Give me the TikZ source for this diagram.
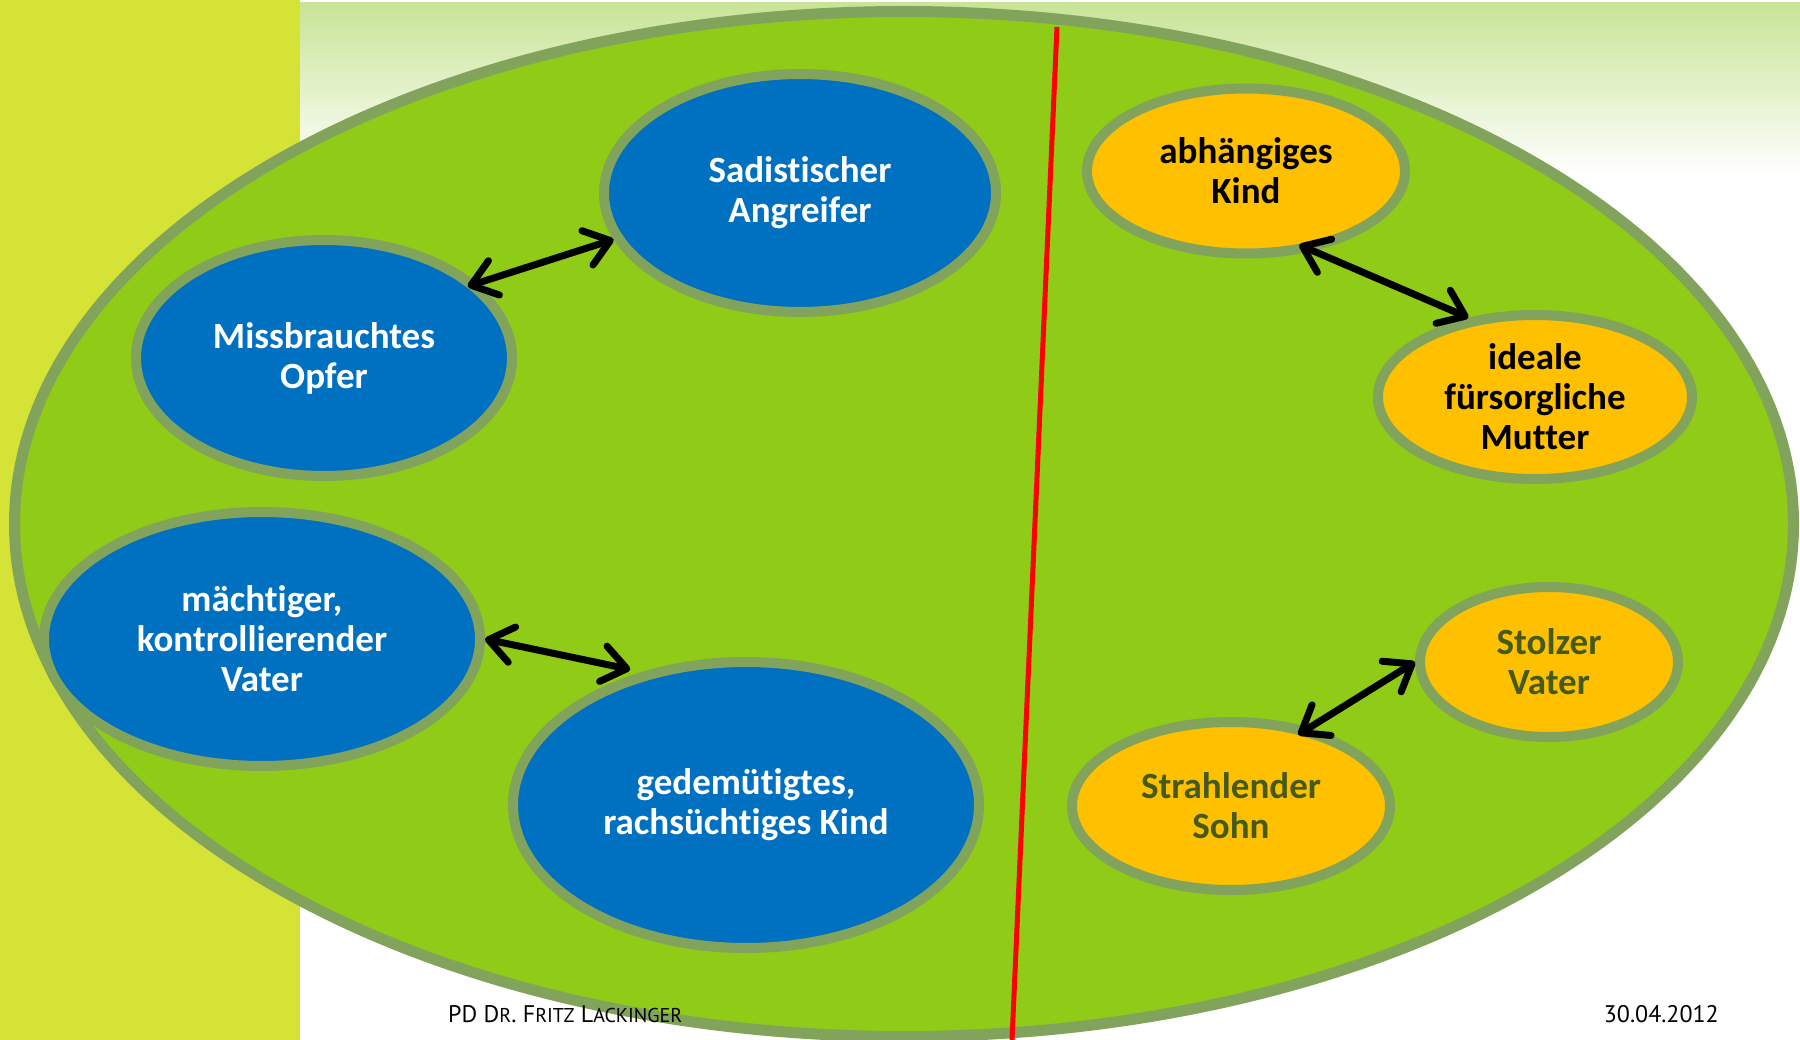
\documentclass[tikz,border=0pt]{standalone}
\usepackage{fontspec}
\setmainfont{Carlito}[Ligatures=NoCommon]
\newfontfamily\footfont{PT Sans}
\usetikzlibrary{arrows.meta,shapes.geometric}

\definecolor{stripgreen}{RGB}{213,227,55}
\definecolor{topgreen}{RGB}{200,228,150}
\definecolor{leafgreen}{RGB}{143,203,23}
\definecolor{rimgreen}{RGB}{130,163,92}
\definecolor{roleblue}{RGB}{0,112,192}
\definecolor{roleamber}{RGB}{255,192,0}
\definecolor{olivetext}{RGB}{70,90,24}

% reduced capitals for the author line
\newcommand{\lowcaps}[1]{{\fontsize{20}{21}\selectfont #1}}

\begin{document}
\begin{tikzpicture}[x=1pt,y=-1pt,
  role/.style={ellipse, draw=rimgreen, line width=10pt, inner sep=0pt,
    align=center, font=\fontsize{37}{40}\selectfont\bfseries},
  bluerole/.style={role, fill=roleblue, text=white},
  amberrole/.style={role, fill=roleamber, text=black},
  oliverole/.style={role, fill=roleamber, text=olivetext},
  link/.style={{Straight Barb[length=24pt,width=36pt,round]}-{Straight Barb[length=24pt,width=36pt,round]},
    line width=7pt, line cap=round, black},
  footer/.style={inner sep=0pt, font=\footfont\fontsize{24}{26}\selectfont, text=black}
]
\useasboundingbox (0,0) rectangle (1800,1040);

% background: white page, soft green band on top, lime strip on the left
\fill[white] (0,0) rectangle (1800,1040);
\shade[top color=topgreen, bottom color=white] (300,3) rectangle (1800,175);
\fill[stripgreen] (0,0) rectangle (300,1040);

% large enclosing ellipse
\draw[draw=rimgreen, fill=leafgreen, line width=11pt]
  (904,524) ellipse [x radius=889.5, y radius=512.5];

% dividing line
\coordinate (cutTop) at (1057,27);
\coordinate (cutBottom) at (1012,1040);
\draw[red, line width=5pt] (cutTop) -- (cutBottom);

% left half: blue roles
\node[bluerole, minimum width=392pt, minimum height=238pt] (sad) at (800,193) {Sadistischer\\Angreifer};
\node[bluerole, minimum width=376pt, minimum height=236pt] (opf) at (324,358) {Missbrauchtes\\Opfer};
\node[bluerole, minimum width=436pt, minimum height=254pt] (vat) at (262,639) {mächtiger,\\kontrollierender\\Vater};
\node[bluerole, minimum width=466pt, minimum height=286pt] (ged) at (746,805) {gedemütigtes,\\rachsüchtiges Kind};

% right half: amber roles
\node[amberrole, minimum width=318pt, minimum height=165pt] (abh) at (1246,171) {abhängiges\\Kind};
\node[amberrole, minimum width=314pt, minimum height=164pt] (mut) at (1535,397) {ideale\\fürsorgliche\\Mutter};
\node[oliverole, minimum width=258pt, minimum height=150pt] (stv) at (1549,662) {Stolzer\\Vater};
\node[oliverole, minimum width=318pt, minimum height=168pt] (soh) at (1231,806) {Strahlender\\Sohn};

% mutual relations
\draw[link, shorten <=-10pt] (opf.26) -- (sad.194);
\draw[link, shorten >=12pt] (vat.0) -- (ged.128.5);
\draw[link, shorten <=-15pt] (abh.310) -- (mut.130);
\draw[link, shorten <=-13pt] (soh.45) -- (stv.180);

% footer
\node[footer, anchor=base west] (author) at (448,1022)
  {PD D\lowcaps{R}. F\lowcaps{RITZ} L\lowcaps{ACKINGER}};
\node[footer, anchor=base east] (date) at (1719,1022) {30.04.2012};
\end{tikzpicture}
\end{document}
